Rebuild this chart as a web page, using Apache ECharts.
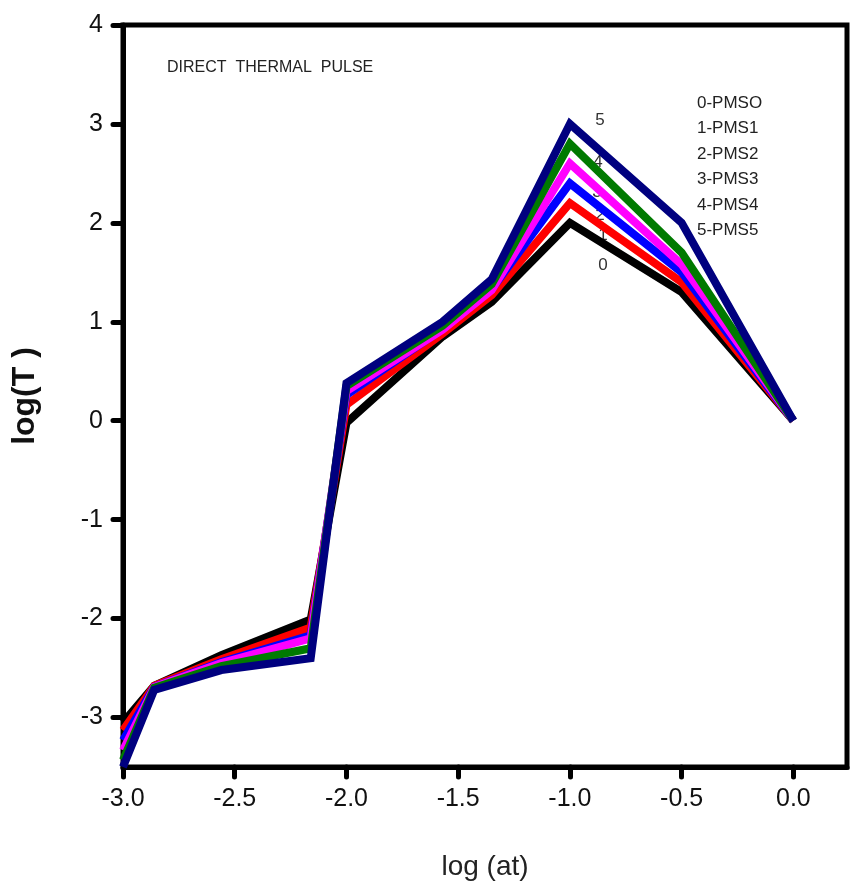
<!DOCTYPE html>
<html><head><meta charset="utf-8">
<script src="https://cdn.jsdelivr.net/npm/echarts@6/dist/echarts.min.js"></script>
<style>html,body{margin:0;padding:0;background:#fff}#c{width:856px;height:887px}</style>
</head><body><div id="c"></div>
<script>
const xValues = [-3.0, -2.86, -2.56, -2.16, -2.0, -1.57, -1.35, -1.0, -0.5, 0.0];
const pms0 = [-3.05, -2.68, -2.37, -2.01, -0.02, 0.85, 1.20, 2.0, 1.30, 0];
const pms1 = [-3.13, -2.68, -2.41, -2.09, 0.16, 0.88, 1.27, 2.2, 1.40, 0];
const pms2 = [-3.23, -2.69, -2.44, -2.17, 0.26, 0.93, 1.33, 2.4, 1.50, 0];
const pms3 = [-3.33, -2.69, -2.45, -2.20, 0.30, 0.92, 1.32, 2.6, 1.58, 0];
const pms4 = [-3.43, -2.70, -2.48, -2.30, 0.35, 0.96, 1.38, 2.8, 1.70, 0];
const pms5 = [-3.50, -2.72, -2.52, -2.40, 0.38, 1.00, 1.43, 3.0, 2.00, 0];
const seriesNames = ['0-PMSO', '1-PMS1', '2-PMS2', '3-PMS3', '4-PMS4', '5-PMS5'];
const seriesTags = ['0', '1', '2', '3', '4', '5'];
const seriesColors = ['#000000', '#ff0000', '#0000ff', '#ff00ff', '#007a00', '#00007f'];
const xTicks = [-3.0, -2.5, -2.0, -1.5, -1.0, -0.5, 0.0];
const yTicks = [-3, -2, -1, 0, 1, 2, 3, 4];
const titleText = 'DIRECT  THERMAL  PULSE';

const allSeries = [pms0, pms1, pms2, pms3, pms4, pms5];
const FONT = '"Liberation Sans", Arial, sans-serif';
const chart = echarts.init(document.getElementById('c'));

const tagPos = [[603, 265], [603, 235], [600, 215], [597, 192], [598, 162], [600, 120]];
const graphics = [];
graphics.push({type: 'text', x: 167, y: 68, style: {text: titleText, fontSize: 16, fontFamily: FONT, fill: '#222', verticalAlign: 'middle'}});
seriesNames.forEach((n, i) => {
  graphics.push({type: 'text', x: 697, y: 103 + i * 25.5, style: {text: n, fontSize: 17, fontFamily: FONT, fill: '#222', verticalAlign: 'middle'}});
});
seriesTags.forEach((t, i) => {
  graphics.push({type: 'text', x: tagPos[i][0], y: tagPos[i][1], style: {text: t, fontSize: 17, fontFamily: FONT, fill: '#333', align: 'center', verticalAlign: 'middle'}});
});

chart.setOption({
  animation: false,
  backgroundColor: '#fff',
  grid: {left: 123, right: 9, top: 25, bottom: 120, show: true, borderWidth: 5, borderColor: '#000', backgroundColor: 'transparent'},
  xAxis: {
    type: 'value', min: -3.0, max: 0.24,
    name: 'log (at)', nameLocation: 'middle', nameGap: 86,
    nameTextStyle: {fontFamily: FONT, fontSize: 28, color: '#222'},
    axisLine: {show: true, onZero: false, lineStyle: {color: '#000', width: 5}},
    axisTick: {show: true, length: 10, inside: false, customValues: xTicks, lineStyle: {color: '#000', width: 5, cap: 'round'}},
    axisLabel: {show: true, customValues: xTicks, margin: 20, fontFamily: FONT, fontSize: 25, color: '#111', formatter: v => v.toFixed(1)},
    splitLine: {show: false}
  },
  yAxis: {
    type: 'value', min: -3.5, max: 4,
    name: 'log(T )', nameLocation: 'middle', nameGap: 82, nameRotate: 90,
    nameTextStyle: {fontFamily: FONT, fontSize: 32, fontWeight: 'bold', color: '#111'},
    axisLine: {show: true, onZero: false, lineStyle: {color: '#000', width: 5}},
    axisTick: {show: true, length: 10, inside: false, customValues: yTicks, lineStyle: {color: '#000', width: 5, cap: 'round'}},
    axisLabel: {show: true, customValues: yTicks, margin: 20, fontFamily: FONT, fontSize: 25, color: '#111', formatter: v => String(v)},
    splitLine: {show: false}
  },
  series: allSeries.map((vals, i) => ({
    type: 'line', name: seriesNames[i],
    data: xValues.map((x, j) => [x, vals[j]]),
    showSymbol: false, symbol: 'none', smooth: false, clip: true,
    lineStyle: {color: seriesColors[i], width: 8, join: 'miter'},
    z: 2 + i
  })),
  graphic: graphics
});
</script></body></html>
